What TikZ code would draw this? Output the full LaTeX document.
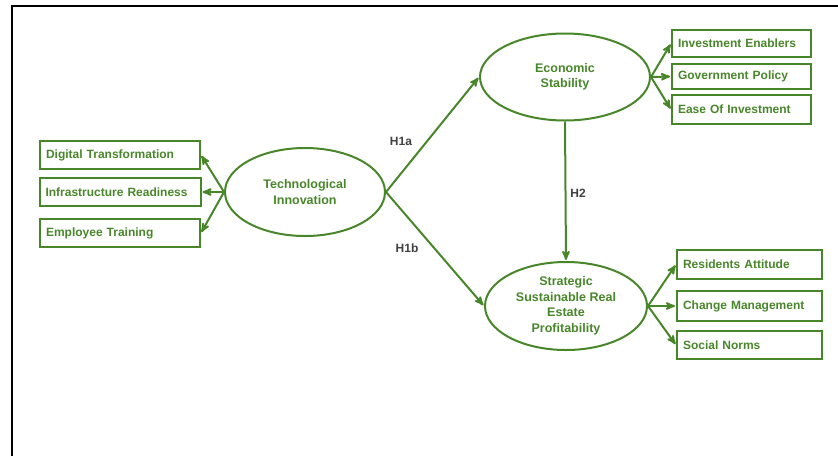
\documentclass[tikz,border=0pt]{standalone}
\usepackage{fontspec}
\setmainfont{Liberation Sans}
\usepackage{xcolor}
\usetikzlibrary{arrows}
\usetikzlibrary{shapes}

\definecolor{modelgreen}{RGB}{72,134,42}

\begin{document}
\begin{tikzpicture}
[
x=1pt, y=-1pt,
every node/.style={
	draw=modelgreen,
	line width=2pt,
	text=modelgreen,
	font=\bfseries\fontsize{12}{14}\selectfont},
itemBox/.style={
	rectangle,
	inner sep=0pt,
	text width=#1,
	minimum height=28pt,
	align=left,
	inner xsep=6pt},
construct/.style={
	ellipse,
	inner sep=0pt,
	align=center,
	font=\bfseries\fontsize{12.5}{15.5}\selectfont},
hypLabel/.style={
	draw=none,
	text=black!75},
regArr/.style={
	->,
	>=stealth',
	modelgreen,
	line width=2pt,
	shorten >=1pt}
]
\useasboundingbox (0,0) rectangle (838,456);

%frame
\draw [line width=2pt] (12,456) -- (12,6) -- (838,6);

%constructs
\node [construct, minimum width=160pt, minimum height=88pt] (tech) at (305,192) {Technological\\Innovation};
\node [construct, minimum width=170pt, minimum height=87pt] (econ) at (565,77) {Economic\\Stability};
\node [construct, minimum width=162pt, minimum height=88pt] (ssrep) at (566,306) {Strategic\\Sustainable Real\\Estate\\Profitability};

%indicators of technological innovation
\node [itemBox=148pt] (dt) at (120,155) {Digital Transformation};
\node [itemBox=149pt] (ir) at (120,192) {Infrastructure Readiness};
\node [itemBox=148pt] (et) at (120,233) {Employee Training};

%indicators of economic stability
\node [itemBox=127pt, minimum height=27pt] (ie) at (741.5,43.5) {Investment Enablers};
\node [itemBox=127pt, minimum height=25pt] (gp) at (741.5,76.5) {Government Policy};
\node [itemBox=127pt, minimum height=29pt] (eoi) at (741.5,109.5) {Ease Of Investment};

%indicators of profitability
\node [itemBox=133pt, minimum height=29pt] (ra) at (749.5,264.5) {Residents Attitude};
\node [itemBox=133pt, minimum height=30pt] (cm) at (749.5,306) {Change Management};
\node [itemBox=133pt, minimum height=28pt] (sn) at (749.5,345) {Social Norms};

%hypothesis labels
\node [hypLabel] (h1a) at (401,141) {H1a};
\node [hypLabel] (h1b) at (407,248) {H1b};
\node [hypLabel] (h2) at (578,193) {H2};

%technological innovation column
\draw [regArr] (tech.west) -- (dt.east);
\draw [regArr] (tech.west) -- (ir.east);
\draw [regArr] (tech.west) -- (et.east);

%hypotheses
\draw [regArr] (tech.east) -- (econ.west);
\draw [regArr] (tech.east) -- (ssrep.west);
\draw [regArr] (econ.south) -- (ssrep.north);

%economic stability column
\draw [regArr] (econ.east) -- (ie.west);
\draw [regArr] (econ.east) -- (gp.west);
\draw [regArr] (econ.east) -- (eoi.west);

%profitability column
\draw [regArr] (ssrep.east) -- (ra.west);
\draw [regArr] (ssrep.east) -- (cm.west);
\draw [regArr] (ssrep.east) -- (sn.west);

\end{tikzpicture}
\end{document}
